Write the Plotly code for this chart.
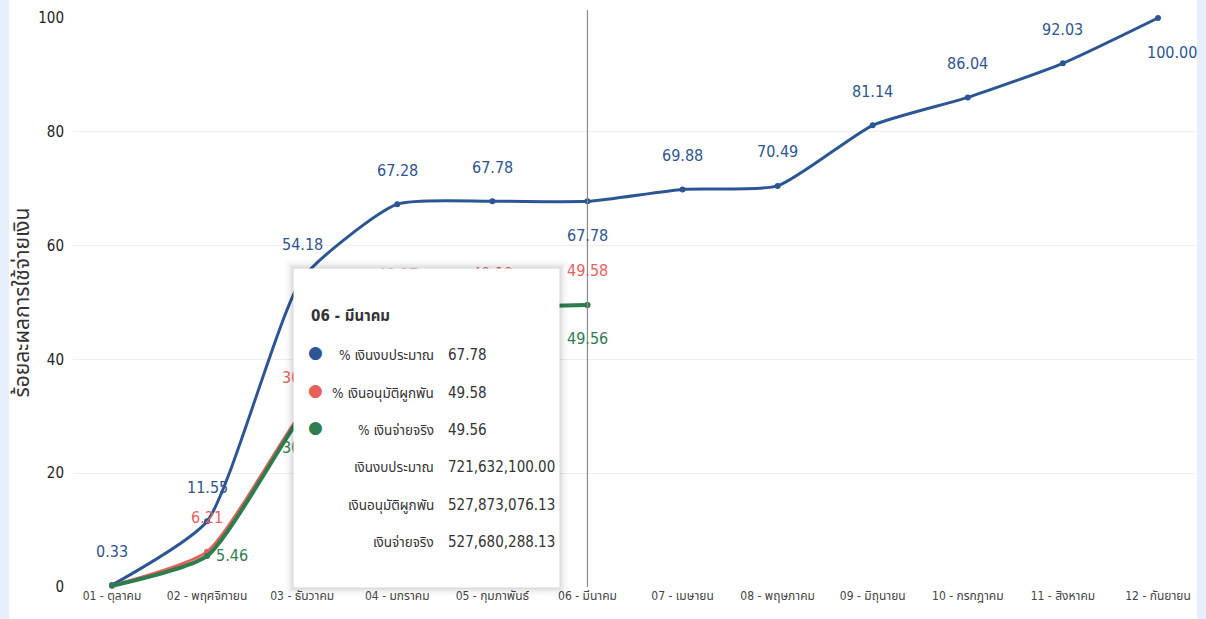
import plotly.graph_objects as go

months = ["01 - ตุลาคม", "02 - พฤศจิกายน", "03 - ธันวาคม", "04 - มกราคม", "05 - กุมภาพันธ์",
          "06 - มีนาคม", "07 - เมษายน", "08 - พฤษภาคม", "09 - มิถุนายน", "10 - กรกฎาคม",
          "11 - สิงหาคม", "12 - กันยายน"]
budget_pct = [0.33, 11.55, 54.18, 67.28, 67.78, 67.78, 69.88, 70.49, 81.14, 86.04, 92.03, 100.00]
approved_pct = [0.25, 6.21, 30.8, 48.97, 49.19, 49.58]
paid_pct = [0.20, 5.46, 30.3, 48.95, 49.17, 49.56]

series_names = ["% เงินงบประมาณ", "% เงินอนุมัติผูกพัน", "% เงินจ่ายจริง"]
tip_title = "06 - มีนาคม"
tip_labels = ["% เงินงบประมาณ", "% เงินอนุมัติผูกพัน", "% เงินจ่ายจริง",
              "เงินงบประมาณ", "เงินอนุมัติผูกพัน", "เงินจ่ายจริง"]
tip_values = ["67.78", "49.58", "49.56", "721,632,100.00", "527,873,076.13", "527,680,288.13"]
y_title = "ร้อยละผลการใช้จ่ายเงิน"

BLUE = "#2c5596"
RED = "#e8605c"
GREEN = "#2e7d4e"
FONT = "DejaVu Sans Condensed, Liberation Sans Narrow, Noto Sans Thai, Noto Sans, sans-serif"

L, R, T, B = 73, 11, 18, 32
W, H = 1206, 619
PW, PH = W - L - R, H - T - B


def px(x):
    return (x - L) / PW


def py(y):
    return (H - B - y) / PH


fig = go.Figure()
for name, vals, col, wid in [(series_names[0], budget_pct, BLUE, 3),
                             (series_names[1], approved_pct, RED, 3),
                             (series_names[2], paid_pct, GREEN, 4)]:
    fig.add_trace(go.Scatter(
        x=months[:len(vals)], y=vals, name=name, mode="lines+markers",
        line=dict(color=col, width=wid, shape="spline", smoothing=0.55),
        marker=dict(size=6, color=col), cliponaxis=False, showlegend=False,
        hoverinfo="skip"))

annotations = []
# data labels (labels hidden behind the tooltip in the original are omitted)
for i, v in enumerate(budget_pct):
    xs, ys = 0, 34
    if i == 5:
        ys = -34
    if i == len(budget_pct) - 1:
        xs, ys = 14, -34
    annotations.append(dict(x=months[i], y=v, text=f"{v:.2f}", showarrow=False,
                            xshift=xs, yshift=ys, font=dict(color=BLUE, size=16, family=FONT)))
for i, v in enumerate(approved_pct):
    if i == 0:
        continue
    annotations.append(dict(x=months[i], y=v, text=f"{v:.2f}", showarrow=False,
                            yshift=34, font=dict(color=RED, size=16, family=FONT)))
for i, v in enumerate(paid_pct):
    if i in (0, 3, 4):
        continue
    xs, ys = 0, -33
    if i == 1:
        xs, ys = 25, 0
    annotations.append(dict(x=months[i], y=v, text=f"{v:.2f}", showarrow=False,
                            xshift=xs, yshift=ys, font=dict(color=GREEN, size=16, family=FONT)))

shapes = []
# side strips
shapes.append(dict(type="rect", xref="paper", yref="paper", x0=px(0), x1=px(9), y0=py(H), y1=py(0),
                   fillcolor="#e6effb", line=dict(width=0), layer="below"))
shapes.append(dict(type="rect", xref="paper", yref="paper", x0=px(1197), x1=px(W), y0=py(H), y1=py(0),
                   fillcolor="#e6effb", line=dict(width=0), layer="below"))
# crosshair line at March
shapes.append(dict(type="line", xref="x", yref="paper", x0=months[5], x1=months[5],
                   y0=0, y1=py(10), line=dict(color="#8a8a8a", width=1.2), layer="above"))

# tooltip box (annotations so it covers the labels beneath it)
bx0, bx1, by0, by1 = 293, 558, 268, 586
for k, a in [(8, 0.025), (5, 0.035), (3, 0.045), (1, 0.06)]:
    annotations.append(dict(xref="paper", yref="paper", x=px(bx0 - k), y=py(by0 - k),
                            xanchor="left", yanchor="top", showarrow=False, text=" ",
                            width=bx1 - bx0 + 2 * k, height=by1 - by0 + 2 * k, borderpad=0,
                            bgcolor=f"rgba(0,0,0,{a})", font=dict(size=1)))
annotations.append(dict(xref="paper", yref="paper", x=px(bx0), y=py(by0),
                        xanchor="left", yanchor="top", showarrow=False, text=" ",
                        width=bx1 - bx0, height=by1 - by0, borderpad=0,
                        bgcolor="white", font=dict(size=1)))
shapes.append(dict(type="path", xref="paper", yref="paper",
                   path=f"M {px(bx1 - 1)},{py(556)} L {px(bx1 + 8)},{py(565)} L {px(bx1 - 1)},{py(574)} Z",
                   fillcolor="white", line=dict(width=0), layer="above"))

# tooltip text
annotations.append(dict(xref="paper", yref="paper", x=px(309), y=py(316), xanchor="left",
                        yanchor="middle", showarrow=False, text=f"<b>{tip_title}</b>",
                        font=dict(size=15, color="#333333", family=FONT)))
row_y = [355, 393, 430, 467, 505, 542]
dot_cols = [BLUE, RED, GREEN]
for j, (lab, val) in enumerate(zip(tip_labels, tip_values)):
    if j < 3:
        annotations.append(dict(xref="paper", yref="paper", x=px(315), y=py(row_y[j] - 3),
                                xanchor="center", yanchor="middle", showarrow=False, text="●",
                                font=dict(size=17, color=dot_cols[j], family="DejaVu Sans")))
    annotations.append(dict(xref="paper", yref="paper", x=px(436), y=py(row_y[j]),
                            xanchor="right", yanchor="middle", showarrow=False, text=lab,
                            font=dict(size=13.5, color="#333333", family=FONT)))
    annotations.append(dict(xref="paper", yref="paper", x=px(446), y=py(row_y[j]),
                            xanchor="left", yanchor="middle", showarrow=False, text=val,
                            font=dict(size=15, color="#333333", family=FONT)))

fig.update_layout(
    width=W, height=H, margin=dict(l=L, r=R, t=T, b=B, autoexpand=False),
    paper_bgcolor="white", plot_bgcolor="white",
    font=dict(family=FONT, color="#333333"),
    shapes=shapes, annotations=annotations, hovermode=False,
    xaxis=dict(type="category", categoryorder="array", categoryarray=months,
               range=[-0.41, 11.389], showgrid=False, zeroline=False, showline=False,
               ticks="", tickfont=dict(size=12, color="#444444"), automargin=False),
    yaxis=dict(range=[0, 100], tickvals=[0, 20, 40, 60, 80, 100], showgrid=True,
               gridcolor="#eeeeee", gridwidth=1, zeroline=False, showline=False,
               tickfont=dict(size=15, color="#222222"), ticklabelstandoff=8, automargin=False,
               title=dict(text=y_title, font=dict(size=21, color="#333333"), standoff=2)),
)

fig.write_html("out.html", config={"displayModeBar": False},
               post_script="document.body.style.margin='0';document.body.style.overflow='hidden';")
